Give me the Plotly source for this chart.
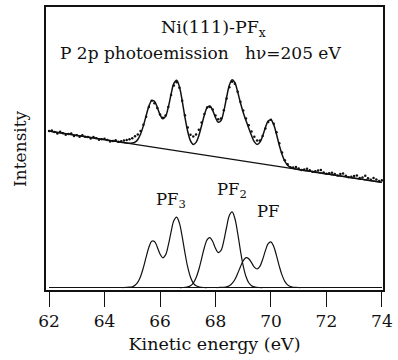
import plotly.graph_objects as go

# Kinetic energy grid (eV)
ENERGY = [round(62.0 + 0.1 * i, 1) for i in range(121)]

# Measured P 2p photoemission intensity (arb. units)
DATA = [157.8, 158.4, 156.9, 155.5, 157.1, 155.6, 154.2, 154.8, 155.4, 152.9,
        153.5, 152.1, 153.6, 152.2, 151.8, 150.3, 151.9, 150.5, 149.0, 149.6,
        150.2, 148.7, 147.3, 147.9, 148.5, 147.0, 147.6, 148.2, 148.8, 149.6,
        150.7, 152.7, 154.4, 157.8, 164.1, 172.4, 182.0, 188.5, 185.9, 181.0,
        174.5, 171.2, 173.6, 182.0, 194.1, 203.9, 207.1, 201.5, 188.4, 173.7,
        161.4, 154.0, 152.4, 154.4, 159.2, 166.4, 175.1, 181.7, 182.2, 179.7,
        173.5, 169.7, 170.5, 178.9, 190.7, 202.1, 207.7, 205.6, 197.4, 187.4,
        178.6, 170.4, 163.7, 157.3, 152.1, 148.3, 148.4, 152.9, 160.4, 167.0,
        169.3, 165.3, 156.6, 145.6, 136.1, 128.4, 124.4, 121.3, 121.2, 121.5,
        120.0, 118.6, 119.1, 119.7, 118.3, 116.9, 117.4, 118.0, 118.6, 116.1,
        114.7, 115.3, 115.8, 114.4, 113.0, 114.5, 115.1, 112.7, 111.3, 111.8,
        112.4, 113.0, 110.5, 111.1, 112.7, 110.2, 108.8, 110.4, 108.9, 107.5,
        108.1]

# Total fit curve
FIT = [157.8, 157.4, 156.9, 156.5, 156.1, 155.6, 155.2, 154.8, 154.4, 153.9,
       153.5, 153.1, 152.6, 152.2, 151.8, 151.3, 150.9, 150.5, 150.0, 149.6,
       149.2, 148.7, 148.3, 147.9, 147.5, 147.0,
       146.6, 146.2, 145.8, 145.6, 145.7, 146.7, 149.4, 154.8, 163.1, 173.4,
       183.0, 188.5, 187.9, 182.0, 174.5, 170.2, 172.6, 182.0, 195.1, 205.9,
       209.1, 202.5, 188.4, 171.7, 157.4, 148.0, 144.4, 146.4, 153.2, 163.4,
       174.1, 181.7, 183.2, 178.7, 171.5, 166.7, 168.5, 177.9, 191.7, 204.1,
       209.7, 206.6, 197.4, 186.4, 176.6, 168.4, 160.7, 153.3, 147.1, 144.3,
       146.4, 152.9, 161.4, 168.0, 169.3, 164.3, 154.6, 143.6, 134.1, 127.4,
       123.4, 121.3, 120.2, 119.5, 119.0,
       118.6, 118.1, 117.7, 117.3, 116.9, 116.4, 116.0, 115.6, 115.1, 114.7,
       114.3, 113.8, 113.4, 113.0, 112.5, 112.1, 111.7, 111.3, 110.8, 110.4,
       110.0, 109.5, 109.1, 108.7, 108.2, 107.8, 107.4, 106.9, 106.5, 106.1]

# Linear background
BG_ENERGY = [62.0, 74.0]
BG_INTENSITY = [157.8, 106.1]

# Fitted components (doublets)
PF3 = [0.0] * 27 + [0.0, 0.1, 0.3, 0.8, 2.3, 5.4, 11.2, 20.0, 30.7, 40.7,
                    46.6, 46.5, 41.0, 33.9, 30.0, 32.9, 42.7, 56.2, 67.5, 71.1,
                    65.0, 51.3, 34.9, 20.5, 10.4, 4.5, 1.7, 0.6, 0.2, 0.0] + [0.0] * 64
PF2 = [0.0] * 48 + [0.0, 0.2, 0.6, 1.8, 4.5, 9.8, 18.2, 29.2, 40.4, 48.4,
                    50.4, 46.4, 39.6, 35.2, 37.4, 47.1, 60.8, 72.6, 76.3, 69.6,
                    54.9, 37.3, 21.9, 11.1, 4.8, 1.8, 0.6, 0.2, 0.0, 0.0] + [0.0] * 43
PF = [0.0] * 61 + [0.0, 0.1, 0.2, 0.6, 1.7, 4.1, 8.1, 14.1, 21.0, 27.0,
                   30.1, 29.1, 25.1, 20.6, 18.7, 21.3, 28.3, 37.2, 44.2, 46.0,
                   41.4, 32.2, 21.6, 12.5, 6.2, 2.7, 1.0, 0.3, 0.1, 0.0] + [0.0] * 30

COMPONENT_LABELS = ["PF<sub>3</sub>", "PF<sub>2</sub>", "PF"]
LABEL_X = [66.38, 68.59, 69.92]
LABEL_Y = [88, 98, 77]

TICKS = [62, 64, 66, 68, 70, 72, 74]

FONT = "DejaVu Serif"
INK = "#111111"

fig = go.Figure()
for comp in (PF3, PF2, PF):
    fig.add_trace(go.Scatter(x=ENERGY, y=comp, mode="lines",
                             line=dict(color=INK, width=1.2, shape="spline"),
                             hoverinfo="skip"))
fig.add_trace(go.Scatter(x=BG_ENERGY, y=BG_INTENSITY, mode="lines",
                         line=dict(color=INK, width=1.2)))
fig.add_trace(go.Scatter(x=ENERGY, y=FIT, mode="lines",
                         line=dict(color=INK, width=1.5, shape="spline")))
fig.add_trace(go.Scatter(x=ENERGY, y=DATA, mode="markers",
                         marker=dict(color=INK, size=2.5)))

for txt, lx, ly in zip(COMPONENT_LABELS, LABEL_X, LABEL_Y):
    fig.add_annotation(x=lx, y=ly, xref="x", yref="y", text=txt, showarrow=False,
                       font=dict(family=FONT, size=16.5, color=INK),
                       xanchor="center", yanchor="middle")

fig.add_annotation(x=0.4956, y=0.923, xref="paper", yref="paper",
                   text="Ni(111)-PF<sub>x</sub>", showarrow=False,
                   font=dict(family=FONT, size=17.5, color=INK),
                   xanchor="center", yanchor="middle")
fig.add_annotation(x=0.459, y=0.8386, xref="paper", yref="paper",
                   text="P 2p photoemission\u00a0\u00a0\u00a0h\u03bd=205 eV", showarrow=False,
                   font=dict(family=FONT, size=17, color=INK),
                   xanchor="center", yanchor="middle")
fig.add_annotation(x=-0.079, y=0.5, xref="paper", yref="paper",
                   text="Intensity", textangle=-90, showarrow=False,
                   font=dict(family=FONT, size=17, color=INK),
                   xanchor="center", yanchor="middle")

fig.update_layout(
    width=398, height=360,
    margin=dict(l=46, r=11, t=5, b=70),
    paper_bgcolor="white", plot_bgcolor="white",
    showlegend=False,
    font=dict(family=FONT, size=17, color=INK),
    xaxis=dict(range=[61.89, 74.04], tickvals=TICKS, ticktext=[str(t) for t in TICKS],
               ticks="outside", ticklen=15, tickwidth=1.3, tickcolor=INK,
               showline=True, linecolor=INK, linewidth=1.5, mirror=True,
               showgrid=False, zeroline=False,
               tickfont=dict(family=FONT, size=17, color=INK),
               title=dict(text="Kinetic energy (eV)", font=dict(family=FONT, size=17.5, color=INK),
                          standoff=8)),
    yaxis=dict(range=[-2.5, 283], showticklabels=False, ticks="",
               showline=True, linecolor=INK, linewidth=1.5, mirror=True,
               showgrid=False, zeroline=False),
)

fig.write_html("out.html")
